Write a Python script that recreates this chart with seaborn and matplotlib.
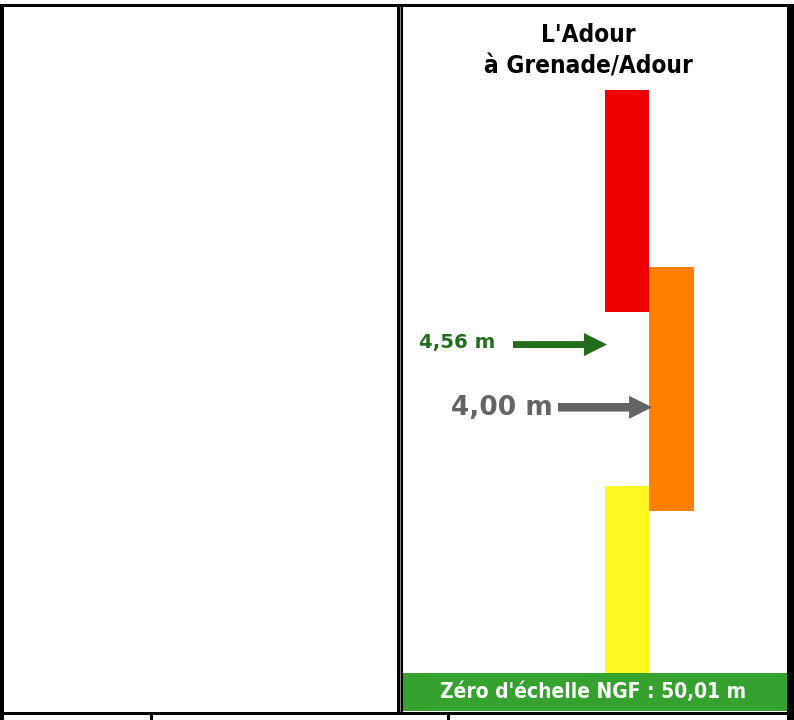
import numpy as np
import pandas as pd
import seaborn as sns
import matplotlib.pyplot as plt
from matplotlib.patches import Rectangle

# niveaux de vigilance (hauteurs en m a l'echelle)
niveaux = ["rouge", "orange", "jaune"]
colonnes = ["g", "d", "g"]
bas = [4.85, 3.075, 1.29]
haut = [6.833, 5.253, 3.297]
couleurs = ["#ee0000", "#ff8000", "#fef720"]

hauteur_obs = 4.56
hauteur_ref = 4.00
label_obs = "4,56 m"
label_ref = "4,00 m"

titre1 = "L'Adour"
titre2 = "à Grenade/Adour"
zero_txt = "Zéro d'échelle NGF : 50,01 m"
zero_haut = 1.628

sns.set_theme(style="white")
plt.rcParams['font.family'] = ['DejaVu Sans']

W, H = 794, 720
def fx(px):
    return px / W
def fy(py):
    return 1 - py / H

fig = plt.figure(figsize=(W / 100, H / 100), dpi=100)
fig.patch.set_facecolor("white")

ax = fig.add_axes([fx(401), fy(711), (787 - 401) / W, (711 - 6) / H])

df = pd.DataFrame({"niveau": niveaux, "col": colonnes, "bas": bas, "haut": haut, "couleur": couleurs})
df["h"] = df["haut"] - df["bas"]

for _, row in df.iterrows():
    sns.barplot(x=[row["col"]], y=[row["h"]], order=["g", "d"], bottom=row["bas"],
                color=row["couleur"], saturation=1, width=1, errorbar=None,
                linewidth=0, ax=ax)

ax.set_xlim(-5.084, 3.590)
ax.set_ylim(1.288, 7.583)
ax.axhspan(1.288, zero_haut, color="#35a12e", lw=0, zorder=5)
ax.set_axis_off()

# fleches
ax.annotate("", xy=(-0.455, hauteur_obs), xytext=(-2.567, hauteur_obs),
            arrowprops=dict(arrowstyle="simple,head_length=0.83,head_width=0.83,tail_width=0.25",
                            mutation_scale=20, lw=0, color="#226e1d",
                            shrinkA=0, shrinkB=0))
ax.annotate("", xy=(0.56, hauteur_ref), xytext=(-1.556, hauteur_ref),
            arrowprops=dict(arrowstyle="simple,head_length=0.83,head_width=0.83,tail_width=0.31",
                            mutation_scale=20, lw=0, color="#646464",
                            shrinkA=0, shrinkB=0))
ax.text(-2.972, hauteur_obs + 0.02, label_obs, ha="right", va="center",
        fontsize=14.2, fontweight="bold", color="#226e1d")
ax.text(-1.669, hauteur_ref - 0.01, label_ref, ha="right", va="center",
        fontsize=19, fontweight="bold", color="#646464")

# titre et zero
fig.text(fx(588), fy(35), titre1, ha="center", va="center", fontsize=17.5,
         fontweight="bold", fontstretch="condensed", color="black")
fig.text(fx(588), fy(66), titre2, ha="center", va="center", fontsize=17.5,
         fontweight="bold", fontstretch="condensed", color="black")
fig.text(fx(593), fy(692), zero_txt, ha="center", va="center", fontsize=15,
         fontweight="bold", fontstretch="condensed", color="white", zorder=10)

# cadre du tableau
def trait(x0, y0, x1, y1, c="black"):
    fig.add_artist(Rectangle((fx(x0), fy(y1)), (x1 - x0) / W, (y1 - y0) / H,
                             transform=fig.transFigure, color=c, lw=0, zorder=20))

trait(0, 3.5, 794, 6.5)
trait(0, 3.5, 4, 720)
trait(787, 3.5, 794, 720)
trait(397, 3.5, 403, 712)
trait(399.5, 6.5, 400.5, 712, "#888888")
trait(0, 711.5, 794, 715)
trait(150, 715, 153, 720)
trait(446.5, 715, 449.5, 720)

plt.savefig("out.png", dpi=100)
